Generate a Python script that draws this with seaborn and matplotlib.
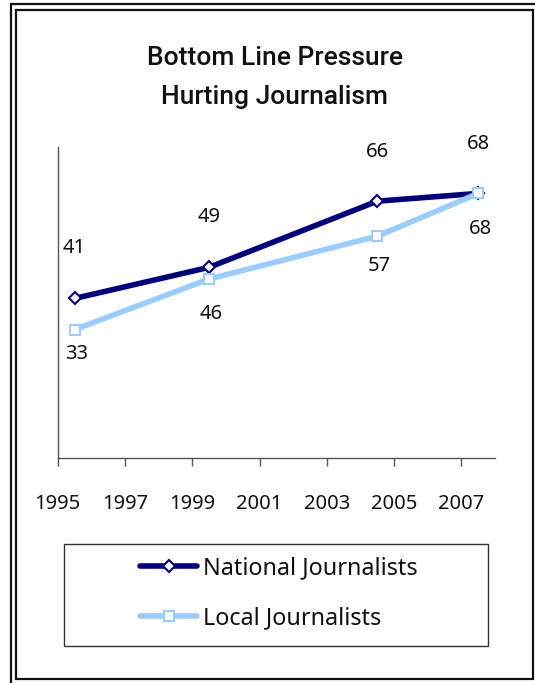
import matplotlib
matplotlib.use("Agg")
import matplotlib.pyplot as plt
from matplotlib.patches import Rectangle
from matplotlib.lines import Line2D
import seaborn as sns
import pandas as pd

# ---- data ----
years = [1995, 1999, 2004, 2007]
national = [41, 49, 66, 68]
local = [33, 46, 57, 68]
series_names = ["National Journalists", "Local Journalists"]
xtick_years = [1995, 1997, 1999, 2001, 2003, 2005, 2007]
title_lines = ["Bottom Line Pressure", "Hurting Journalism"]

df = pd.DataFrame({
    "year": [y + 0.5 for y in years] * 2,   # surveys plotted at mid-year on a date axis
    "value": national + local,
    "series": [series_names[0]] * len(years) + [series_names[1]] * len(years),
})

sns.set_theme(style="white")
plt.rcParams["font.family"] = ["Noto Sans", "DejaVu Sans"]

W, H = 535, 683
fig = plt.figure(figsize=(W / 100, H / 100), dpi=100)

def fx(px):
    return px / W

def fy(py):
    return 1 - py / H

PT = 72 / 100  # points per pixel

# axes placement (pixels)
ax_l, ax_r, ax_t, ax_b = 57.7, 495, 146.7, 458
ax = fig.add_axes([fx(ax_l), fy(ax_b), fx(ax_r - ax_l), (ax_b - ax_t) / H])

navy = "#000080"
light = "#99CCFF"
palette = {series_names[0]: navy, series_names[1]: light}
markers = {series_names[0]: "D", series_names[1]: "s"}

sns.lineplot(data=df, x="year", y="value", hue="series", style="series",
             hue_order=series_names, style_order=series_names,
             palette=palette, markers=markers, dashes=False,
             linewidth=4.0, markersize=7, legend=False, ax=ax)

for line in ax.get_lines():
    line.set_markerfacecolor("white")
    line.set_markeredgecolor(line.get_color())
    line.set_markeredgewidth(1.5)
    line.set_solid_capstyle("round")
    line.set_solid_joinstyle("round")
ax.get_lines()[0].set_markersize(6.5)

ax.set_xlim(1995, 2008)
ax.set_ylim(0, 80)
ax.set_xticks(xtick_years)
ax.set_xticklabels([str(y) for y in xtick_years])
ax.set_yticks([])
ax.set_xlabel("")
ax.set_ylabel("")
for s in ["top", "right"]:
    ax.spines[s].set_visible(False)
for s in ["left", "bottom"]:
    ax.spines[s].set_color("#555555")
    ax.spines[s].set_linewidth(1.0)
ax.tick_params(axis="x", bottom=True, direction="out", length=5.5, width=1.0,
               color="#555555", pad=20.5, labelsize=14.5, labelcolor="#111111")
ax.patch.set_alpha(0)

# data labels (offsets in pixels)
nat_off = [50, 50, 49, 49]
loc_off = [-24, -35, -30, -36]
for x, v, o in zip(df["year"][:4], national, nat_off):
    ax.annotate(str(v), (x, v), xytext=(0, o * PT), textcoords="offset points",
                ha="center", va="center", fontsize=14.5, color="#111111")
for x, v, o in zip(df["year"][4:], local, loc_off):
    ax.annotate(str(v), (x, v), xytext=(2 * PT, o * PT), textcoords="offset points",
                ha="center", va="center", fontsize=14.5, color="#111111")

# title
for txt, py in zip(title_lines, [58, 97]):
    fig.text(fx(275), fy(py), txt, ha="center", va="center",
             fontsize=19, fontweight="medium", color="#111111",
             family=["Roboto", "DejaVu Sans"])

# legend box
fig.patches.append(Rectangle((fx(63.5), fy(646)), fx(488 - 63.5), (646 - 544) / H,
                             transform=fig.transFigure, fill=False,
                             edgecolor="#333333", linewidth=1.0))
handles = [Line2D([], [], color=l.get_color(), lw=l.get_linewidth(),
                  marker=l.get_marker(), markersize=l.get_markersize(),
                  markerfacecolor="white", markeredgecolor=l.get_color(),
                  markeredgewidth=1.5, solid_capstyle="round")
           for l in ax.get_lines()[:2]]
fig.legend(handles, series_names, loc="center left",
           bbox_to_anchor=(fx(140), fy(593)), frameon=False,
           fontsize=16.8, handlelength=2.45, handletextpad=0.26,
           labelspacing=1.12, borderpad=0, borderaxespad=0,
           labelcolor="#111111")

# double outer frame
fig.patches.append(Rectangle((fx(11), fy(700)), fx(560), (700 - 3.5) / H,
                             transform=fig.transFigure, fill=False,
                             edgecolor="#111111", linewidth=1.6))
fig.patches.append(Rectangle((fx(15.8), fy(679)), fx(532.5 - 15.8), (679 - 9.5) / H,
                             transform=fig.transFigure, fill=False,
                             edgecolor="#111111", linewidth=1.6))

fig.savefig("out.png", dpi=100)
